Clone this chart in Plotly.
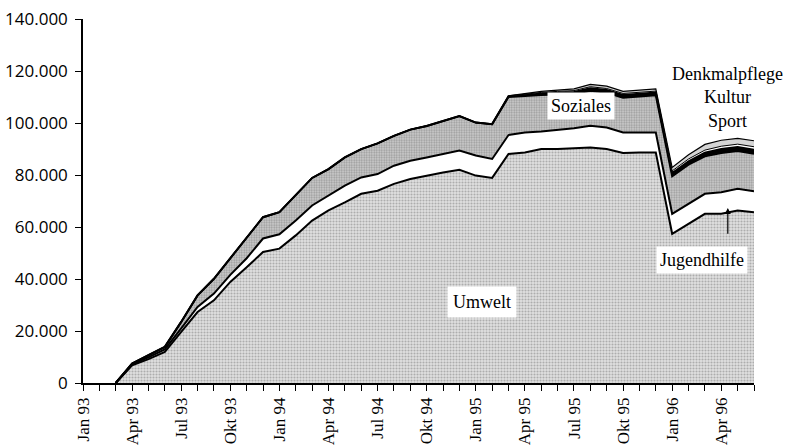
import plotly.graph_objects as go

# ---------------- data ----------------
month_abbr = ["Jan", "Feb", "Mär", "Apr", "Mai", "Jun", "Jul", "Aug", "Sep", "Okt", "Nov", "Dez"]
years = ["93", "94", "95", "96"]
all_months = [f"{m} {y}" for y in years for m in month_abbr][:42]   # Jan 93 .. Jun 96
data_months = all_months[2:]                                          # Mär 93 .. Jun 96

tick_labels = ["Jan 93", "Apr 93", "Jul 93", "Okt 93", "Jan 94", "Apr 94", "Jul 94",
               "Okt 94", "Jan 95", "Apr 95", "Jul 95", "Okt 95", "Jan 96", "Apr 96"]

y_tick_values = [0, 20000, 40000, 60000, 80000, 100000, 120000, 140000]
y_tick_labels = ["0", "20.000", "40.000", "60.000", "80.000", "100.000", "120.000", "140.000"]

umwelt = [0, 6800, 9200, 12000, 19700, 27300, 31800, 38900, 44500, 50400,
          51700, 56800, 62500, 66400, 69500, 72800, 74000, 76600, 78500, 79800,
          81000, 82000, 79800, 78900, 88100, 88700, 90000, 90000, 90300, 90600,
          90000, 88500, 88700, 88700, 57400, 61300, 65100, 65100, 66400, 65700]

jugendhilfe = [0, 400, 700, 900, 1300, 2000, 2600, 2700, 3500, 5200,
               5500, 5700, 5800, 5700, 6400, 6300, 6400, 7000, 7000, 7000,
               7000, 7400, 7700, 7300, 7300, 7700, 6800, 7500, 7700, 8400,
               8300, 7900, 7800, 7700, 7700, 7600, 7700, 8300, 8300, 8100]

soziales = [0, 300, 800, 1000, 2500, 4400, 5700, 6400, 7500, 8200,
            8500, 9600, 10600, 10200, 10900, 10900, 11800, 11500, 12000, 12100,
            12900, 13300, 12700, 13400, 14600, 14100, 14000, 13500, 13100, 13400,
            13400, 13400, 13800, 14300, 14400, 15100, 14400, 15100, 14600, 14400]

sport = [0] * 24 + [300, 500, 700, 800, 900, 1000, 1000, 1000,
                    1000, 1000, 1300, 1300, 1400, 1500, 1500, 1500]

kultur = [0] * 24 + [100, 200, 300, 400, 500, 600, 600, 600,
                     600, 600, 800, 900, 1000, 1100, 1100, 1200]

denkmalpflege = [0] * 24 + [100, 200, 400, 500, 700, 900, 900, 800,
                            800, 900, 1300, 1600, 2200, 2300, 2200, 2300]

# ---------------- figure ----------------
SERIF = "Liberation Serif"
line = dict(color="black", width=2)

fig = go.Figure()
fig.add_trace(go.Scatter(
    x=data_months, y=umwelt, name="Umwelt", stackgroup="one", mode="lines", line=line,
    fillpattern=dict(shape=".", bgcolor="#e0e0e0", fgcolor="#7a7a7a", size=3, solidity=0.4)))
fig.add_trace(go.Scatter(
    x=data_months, y=jugendhilfe, name="Jugendhilfe", stackgroup="one", mode="lines", line=line,
    fillcolor="white"))
fig.add_trace(go.Scatter(
    x=data_months, y=soziales, name="Soziales", stackgroup="one", mode="lines", line=line,
    fillpattern=dict(shape=".", bgcolor="#cdcdcd", fgcolor="#666666", size=2.5, solidity=0.45)))
fig.add_trace(go.Scatter(
    x=data_months, y=sport, name="Sport", stackgroup="one", mode="lines", line=line,
    fillcolor="black"))
fig.add_trace(go.Scatter(
    x=data_months, y=kultur, name="Kultur", stackgroup="one", mode="lines",
    line=dict(color="black", width=1), fillcolor="white"))
fig.add_trace(go.Scatter(
    x=data_months, y=denkmalpflege, name="Denkmalpflege", stackgroup="one", mode="lines",
    line=dict(color="black", width=1.2), fillcolor="#d4d4d4"))

fig.update_layout(
    width=792, height=445,
    margin=dict(l=83, r=38, t=19, b=62, autoexpand=False),
    paper_bgcolor="white", plot_bgcolor="white",
    showlegend=False,
    xaxis=dict(
        type="category", categoryorder="array", categoryarray=all_months,
        range=[0, 41], automargin=False,
        tickmode="array", tickvals=all_months,
        ticktext=[m if m in tick_labels else "" for m in all_months],
        tickangle=-90, ticks="outside", ticklen=6, tickwidth=1, tickcolor="black",
        tickfont=dict(family=SERIF, size=17, color="black"),
        showline=True, linecolor="black", linewidth=1.5,
        showgrid=False, zeroline=False),
    yaxis=dict(
        range=[0, 140050], automargin=False,
        tickmode="array", tickvals=y_tick_values, ticktext=y_tick_labels,
        ticks="outside", ticklen=6, tickwidth=1, tickcolor="black",
        tickfont=dict(family="Open Sans", size=17, color="black"),
        ticklabelstandoff=4,
        showline=True, linecolor="black", linewidth=1.5,
        showgrid=False, zeroline=False),
)

label_font = dict(family=SERIF, size=18, color="black")
fig.add_annotation(x=24.4, y=31100, text="Umwelt", showarrow=False, font=label_font,
                   bgcolor="white", borderpad=5)
fig.add_annotation(x=30.4, y=106600, text="Soziales", showarrow=False, font=label_font,
                   bgcolor="white", borderpad=3)
fig.add_annotation(x=37.8, y=47200, text="Jugendhilfe", showarrow=False, font=label_font,
                   bgcolor="white", borderpad=3)
fig.add_annotation(x=39.4, y=67300, ax=39.4, ay=56800, axref="x", ayref="y", text="",
                   showarrow=True, arrowhead=2, arrowsize=1, arrowwidth=1.2, arrowcolor="black")
fig.add_annotation(x=39.4, y=109700, text="Denkmalpflege<br>Kultur<br>Sport",
                   showarrow=False, font=label_font, align="center")

# remove the default 8 px page margin so the 792x445 figure fills the window exactly
fig.write_html("out.html", config={"displayModeBar": False},
               post_script="document.body.style.margin='0px';")
